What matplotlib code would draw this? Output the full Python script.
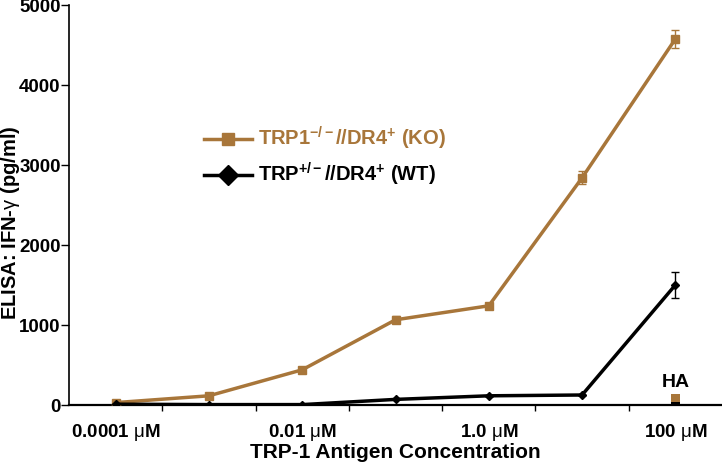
import numpy as np
import matplotlib
matplotlib.use("Agg")
import matplotlib.pyplot as plt
from matplotlib.lines import Line2D

# dados
concentracoes = ["0.0001", "0.001", "0.01", "0.1", "1.0", "10", "100"]
rotulos_x = ["0.0001 $\\mathrm{\\mu}$M", "", "0.01 $\\mathrm{\\mu}$M", "", "1.0 $\\mathrm{\\mu}$M", "", "100 $\\mathrm{\\mu}$M"]
ko_valores = [30, 115, 440, 1065, 1240, 2840, 4575]
ko_erros = [10, 15, 25, 45, 30, 80, 115]
wt_valores = [10, 5, 5, 70, 115, 125, 1500]
wt_erros = [0, 0, 0, 0, 0, 0, 165]
ha_ko = 135
ha_wt = 10

marrom = "#A8763A"
plt.rcParams['font.family'] = ['Liberation Sans', 'DejaVu Sans']
plt.rcParams['mathtext.fontset'] = 'custom'
plt.rcParams['mathtext.rm'] = 'Liberation Sans'
plt.rcParams['mathtext.bf'] = 'Liberation Sans:bold'
plt.rcParams['mathtext.it'] = 'Liberation Sans:italic'

fig = plt.figure(figsize=(7.22, 4.68), dpi=100)
ax = fig.add_axes([69/722, 1 - 405/468, 1 - 69/722, 400/468])

x = np.arange(len(concentracoes))
ax.errorbar(x, ko_valores, yerr=ko_erros, color=marrom, lw=2.5, marker="s", ms=6,
            ecolor=marrom, elinewidth=1, capsize=3, zorder=3)
ax.errorbar(x, wt_valores, yerr=wt_erros, color="black", lw=2.5, marker="D", ms=4,
            ecolor="black", elinewidth=1, capsize=3, zorder=4)

# controle HA
ax.bar(x[-1], ha_ko, width=0.09, color=marrom, zorder=2, clip_on=False)
ax.bar(x[-1], ha_wt + 30, width=0.09, color="black", zorder=3)
ax.text(x[-1], ha_ko + 40, "HA", ha="center", va="bottom", fontsize=14, fontweight="bold")

ax.set_xlim(-0.5, 6.5)
ax.set_ylim(0, 5000)
ax.set_xticks(np.arange(0.5, 6.5, 1.0), minor=False)
ax.set_xticklabels([])
ax.set_xticks(x, minor=True)
ax.set_xticklabels(rotulos_x, minor=True, fontsize=13.5, fontweight="bold")
ax.tick_params(axis="x", which="major", length=4, width=1, direction="out")
ax.tick_params(axis="x", which="minor", length=0, pad=12)
ax.set_yticks([0, 1000, 2000, 3000, 4000, 5000])
ax.tick_params(axis="y", length=6, width=1, direction="out", labelsize=13.5, pad=0)
for t in ax.get_yticklabels():
    t.set_fontweight("bold")

for lado in ["top", "right"]:
    ax.spines[lado].set_visible(False)
ax.spines["left"].set_linewidth(1.2)
ax.spines["bottom"].set_linewidth(1.6)

ax.set_ylabel("ELISA: IFN-$\\mathrm{\\gamma}$ (pg/ml)", fontsize=14.5, fontweight="bold")
ax.yaxis.set_label_coords(-0.072, 0.455)
ax.set_xlabel("TRP-1 Antigen Concentration", fontsize=15, fontweight="bold", labelpad=0)

handles = [
    Line2D([], [], color=marrom, lw=2.5, marker="s", ms=8),
    Line2D([], [], color="black", lw=2.5, marker="D", ms=10),
]
labels = ["TRP1$^{\\mathbf{-/-}}$//DR4$^{\\mathbf{+}}$ (KO)", "TRP$^{\\mathbf{+/-}}$//DR4$^{\\mathbf{+}}$ (WT)"]
leg = ax.legend(handles, labels, loc="upper left", bbox_to_anchor=(0.206, 0.70),
                frameon=False, handlelength=2.4, handletextpad=0.3, labelspacing=0.45,
                borderpad=0, borderaxespad=0, prop={"weight": "bold", "size": 14.5})
leg.get_texts()[0].set_color(marrom)

fig.savefig("out.png", dpi=100)
